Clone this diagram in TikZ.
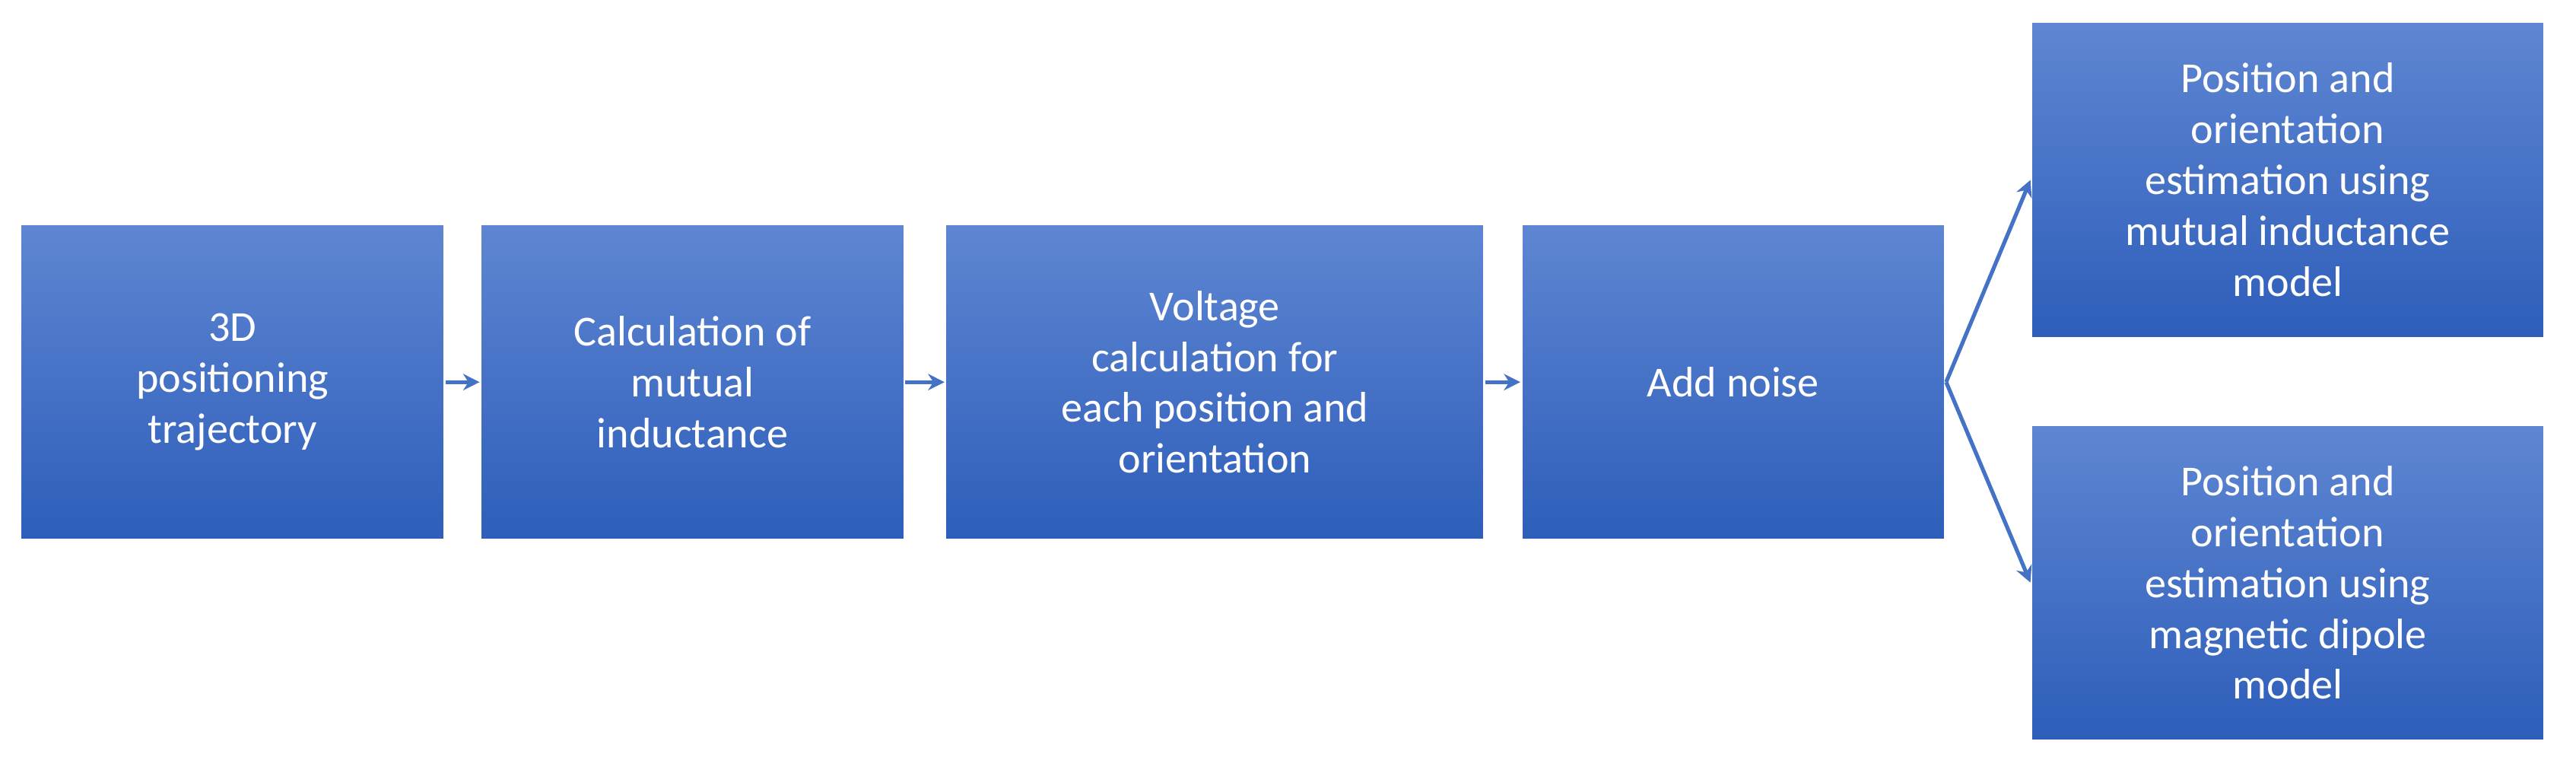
\documentclass[tikz,border=0pt]{standalone}
\usepackage{fontspec}
\setmainfont{Carlito}
\usetikzlibrary{arrows.meta}
\definecolor{topc}{HTML}{5E86D2}
\definecolor{botc}{HTML}{2E5EBA}
\definecolor{arr}{HTML}{4472C4}
\begin{document}
\begin{tikzpicture}[x=0.5pt,y=-0.5pt,
 box/.style={draw=white,line width=0.6pt,top color=topc,bottom color=botc,text=white,align=center,font=\fontsize{13}{15.5}\selectfont,inner sep=0pt},
 ar/.style={draw=arr,line width=1.2pt,-{Stealth[length=5pt,width=5pt]}}]
\useasboundingbox (0,0) rectangle (1568,470);
\node[box,minimum width=129pt,minimum height=96pt] (a) at (141.5,232.5) {3D\\positioning\\trajectory};
\node[box,minimum width=129pt,minimum height=96pt] (b) at (421.5,232.5) {Calculation of\\mutual\\inductance};
\node[box,minimum width=164pt,minimum height=96pt] (c) at (739.5,232.5) {Voltage\\calculation for\\each position and\\orientation};
\node[box,minimum width=129pt,minimum height=96pt] (d) at (1055,232.5) {Add noise};
\node[box,minimum width=156pt,minimum height=96pt] (e) at (1392.5,109.5) {Position and\\orientation\\estimation using\\mutual inductance\\model};
\node[box,minimum width=156pt,minimum height=96pt] (f) at (1392.5,354.5) {Position and\\orientation\\estimation using\\magnetic dipole\\model};
\draw[ar] (a.east) -- (b.west);
\draw[ar] (b.east) -- (c.west);
\draw[ar] (c.east) -- (d.west);
\draw[ar] (d.east) -- (e.west);
\draw[ar] (d.east) -- (f.west);
\end{tikzpicture}
\end{document}
